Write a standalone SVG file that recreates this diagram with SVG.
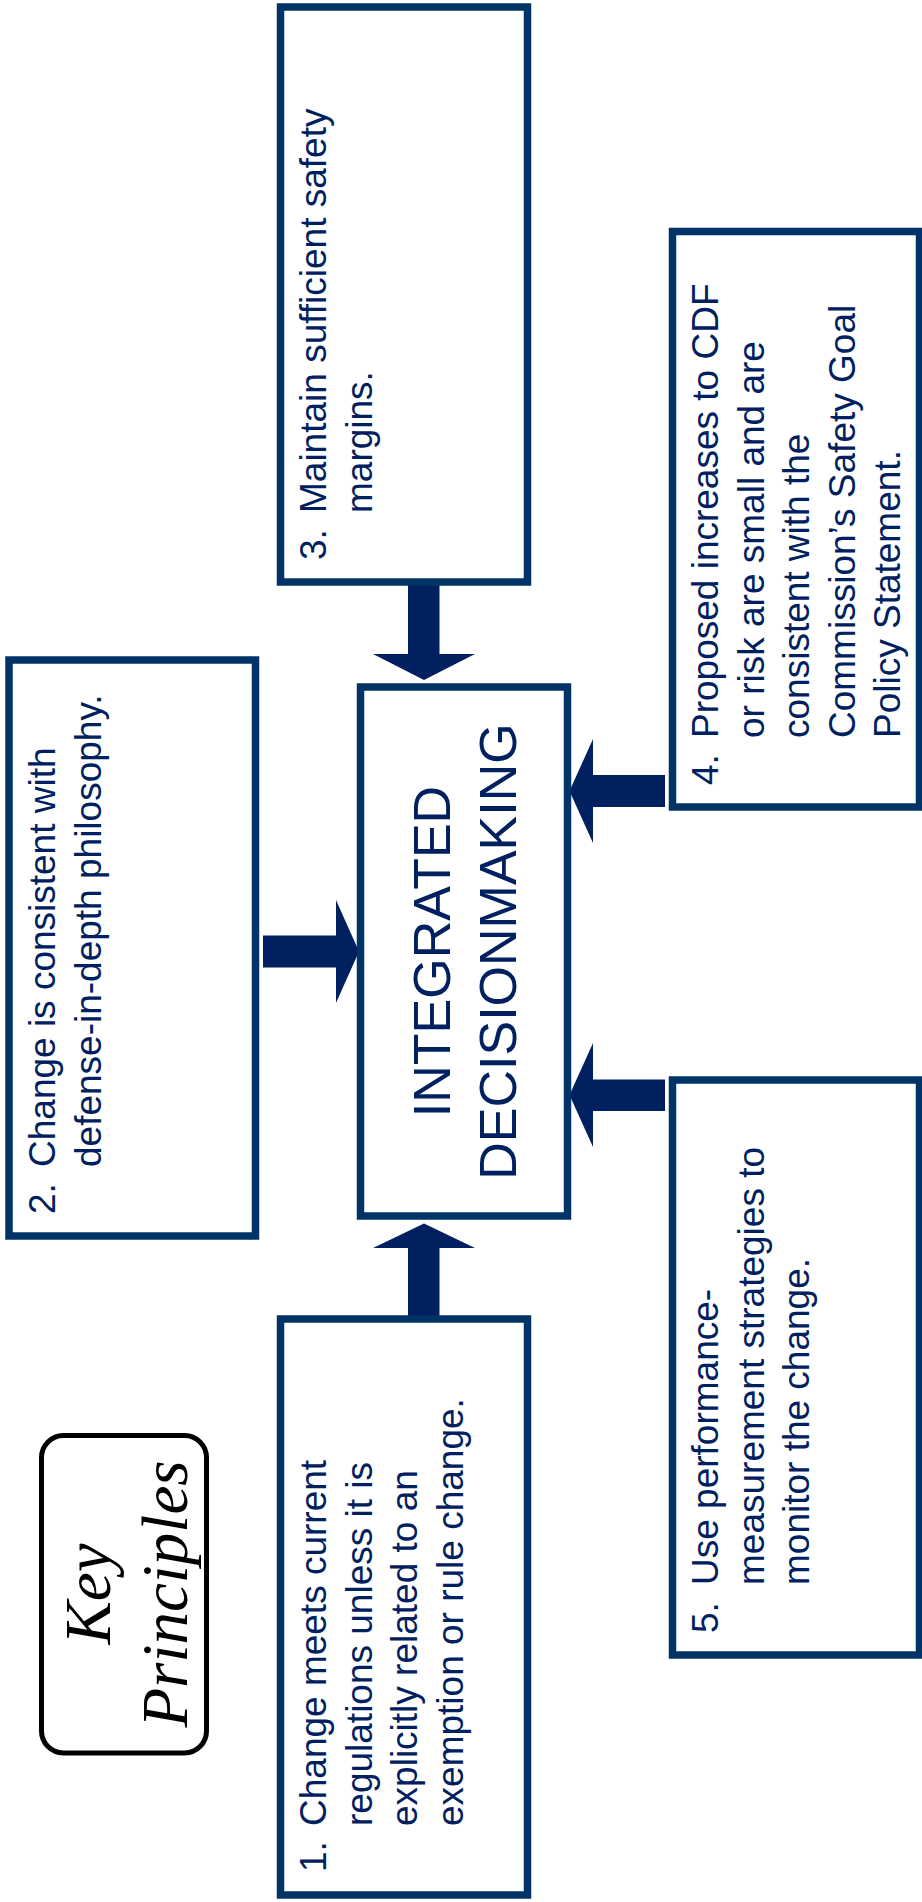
<svg xmlns="http://www.w3.org/2000/svg" width="922" height="1902" viewBox="0 0 922 1902">
<style>
  .box { fill: #ffffff; stroke: #003366; stroke-width: 7.5; }
  .key { fill: #ffffff; stroke: #000000; stroke-width: 5; }
  .arrow { fill: #002060; stroke: none; }
  .t { font-family: "Liberation Sans", Arial, sans-serif; font-size: 37px; fill: #002060; }
  .ctr { font-family: "Liberation Sans", Arial, sans-serif; font-size: 52px; fill: #002060; text-anchor: middle; }
  .kt { font-family: "Liberation Serif", "Times New Roman", serif; font-style: italic; font-size: 65px; fill: #000000; text-anchor: middle; }
</style>
<rect width="922" height="1902" fill="#ffffff"/>

<g id="connectors">
  <polygon class="arrow" points="408,582 439.5,582 439.5,654 475,654 424,680 373,654 408,654"/>
  <polygon class="arrow" points="408,1319 439.5,1319 439.5,1248 475,1248 424,1223.5 373,1248 408,1248"/>
  <polygon class="arrow" points="263,935.5 336,935.5 336,900 359,951.5 336,1003 336,967.5 263,967.5"/>
  <polygon class="arrow" points="665,775 593,775 593,739 569.5,791 593,843 593,807 665,807"/>
  <polygon class="arrow" points="665,1079.5 593,1079.5 593,1043 569.5,1095 593,1147 593,1111 665,1111"/>
</g>

<g id="center">
  <rect class="box" x="360.5" y="687" width="207" height="529"/>
  <text class="ctr" transform="rotate(-90)"><tspan x="-951.5" y="450">INTEGRATED</tspan><tspan x="-951.5" y="516">DECISIONMAKING</tspan></text>
</g>

<g id="p3">
  <rect class="box" x="280.5" y="7" width="247" height="575"/>
  <text class="t" transform="rotate(-90)"><tspan x="-560" y="326">3.</tspan><tspan x="-513" y="326">Maintain sufficient safety</tspan><tspan x="-513" y="371.5">margins.</tspan></text>
</g>

<g id="p2">
  <rect class="box" x="9" y="660" width="246.5" height="576"/>
  <text class="t" transform="rotate(-90)"><tspan x="-1214" y="55">2.</tspan><tspan x="-1167" y="55">Change is consistent with</tspan><tspan x="-1167" y="100.5">defense-in-depth philosophy.</tspan></text>
</g>

<g id="p4">
  <rect class="box" x="672.5" y="231.5" width="247" height="575.5"/>
  <text class="t" transform="rotate(-90)"><tspan x="-785" y="718">4.</tspan><tspan x="-738" y="718">Proposed increases to CDF</tspan><tspan x="-738" y="763.5">or risk are small and are</tspan><tspan x="-738" y="809">consistent with the</tspan><tspan x="-738" y="854.5">Commission’s Safety Goal</tspan><tspan x="-738" y="900">Policy Statement.</tspan></text>
</g>

<g id="p5">
  <rect class="box" x="672.5" y="1080" width="247" height="575"/>
  <text class="t" transform="rotate(-90)"><tspan x="-1633" y="718">5.</tspan><tspan x="-1585" y="718">Use performance-</tspan><tspan x="-1585" y="763.5">measurement strategies to</tspan><tspan x="-1585" y="809">monitor the change.</tspan></text>
</g>

<g id="p1">
  <rect class="box" x="280.5" y="1319" width="247" height="576"/>
  <text class="t" transform="rotate(-90)"><tspan x="-1872" y="326">1.</tspan><tspan x="-1826" y="326">Change meets current</tspan><tspan x="-1826" y="371.5">regulations unless it is</tspan><tspan x="-1826" y="417">explicitly related to an</tspan><tspan x="-1826" y="462.5">exemption or rule change.</tspan></text>
</g>

<g id="key-principles">
  <rect class="key" x="41.5" y="1435.5" width="165" height="317.5" rx="22" ry="22"/>
  <text class="kt" transform="rotate(-90)"><tspan x="-1594" y="110">Key</tspan><tspan x="-1594" y="187">Principles</tspan></text>
</g>
</svg>
